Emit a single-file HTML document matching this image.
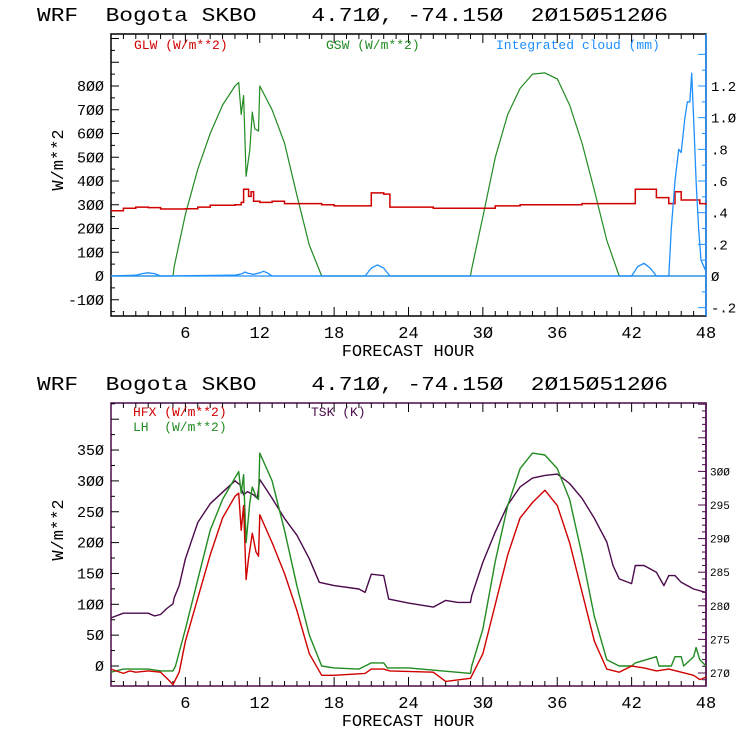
<!DOCTYPE html>
<html><head><meta charset="utf-8"><style>
body{margin:0;background:#fff;}
svg text{font-family:"Liberation Mono",monospace;white-space:pre;}
</style></head><body>
<svg id="c" width="740" height="740" xmlns="http://www.w3.org/2000/svg" xml:space="preserve">
<rect width="740" height="740" fill="#fff"/>
</svg>
<script>
// ---- data (hour, value) ----
const glwH=[0,1,2,3,4,6,7,8,10,10.5,10.7,11.1,11.3,11.5,12,13,14,17,18,20.5,21,22,22.5,26,29,31,33,38,42,42.3,44,45,45.5,46,47,47.5,48];
const glwV=[275,285,290,288,282,283,290,298,300,310,365,335,355,315,310,315,305,300,295,295,350,345,290,285,285,295,300,305,305,365,330,305,355,320,320,305,300];
const gswH=[0,5,5.1,6,7,8,9,10,10.3,10.5,10.7,10.9,11.2,11.4,11.6,11.9,12,13,14,15,16,17,29,29.1,30,31,32,33,34,35,36,37,38,39,40,41,48];
const gswV=[0,0,40,260,450,600,720,800,815,680,760,420,530,690,620,610,800,700,560,340,130,0,0,30,250,500,680,790,850,855,830,720,560,360,150,0,0];
const cldH=[0,2,2.5,3,3.5,4,10,10.6,10.8,11,11.5,12,12.3,12.6,13,20.5,21,21.5,22,22.5,42,42.5,43,43.5,44,45,45.2,45.5,45.8,46,46.3,46.5,46.7,46.85,47,47.2,47.4,47.6,48];
const cldV=[0,0.005,0.015,0.02,0.015,0,0.005,0.015,0.025,0.018,0.01,0.02,0.03,0.02,0,0,0.05,0.07,0.05,0,0,0.06,0.08,0.05,0,0,0.3,0.6,0.8,0.78,1.0,1.1,1.1,1.28,1.0,0.6,0.3,0.1,0.03];
const hfxH=[0,1,1.5,2,3,4,4.5,5,5.5,6,7,8,9,10,10.3,10.5,10.7,10.9,11.1,11.4,11.7,11.9,12,13,14,15,16,17,18,20.5,21,22,22.5,26,27,29,30,31,32,33,34,35,36,37,38,39,40,41,42,43,44,45,46,47,47.5,48];
const hfxV=[-5,-12,-8,-10,-8,-10,-20,-30,-10,40,110,180,240,275,280,220,260,140,175,215,185,178,245,200,150,90,20,-15,-15,-12,-5,-5,-8,-10,-25,-20,20,100,180,240,265,285,260,200,120,40,-5,-10,0,-3,-8,-5,-10,-15,-22,-18];
const lhH=[0,1,3,4,5,5.2,6,7,8,9,10,10.3,10.5,10.7,10.9,11.2,11.4,11.7,11.9,12,13,14,15,16,17,18,20,21,22,22.3,24,29,29.1,30,31,32,33,34,35,36,37,38,39,40,41,42,42.3,44,44.2,45.2,45.5,46,46.2,47,47.2,47.5,48];
const lhV=[-10,-5,-5,-8,-8,0,60,140,220,270,305,315,280,310,200,265,290,275,270,345,300,220,130,50,0,-3,-5,5,5,-3,-3,-12,0,60,170,260,320,345,342,320,270,180,80,10,0,0,5,15,0,0,15,15,0,15,30,10,0];
const tskH=[0,1,3,3.5,4,4.5,5,5.1,5.5,6,7,8,9,10,10.4,10.7,11,11.5,11.8,12,13,14,15,16,16.8,18,20,20.5,21,22,22.4,24,26,27,28,29,29.1,30,31,32,33,34,35,36,37,38,39,40,40.5,41,42,42.3,43,44,44.3,44.6,45,45.5,46,46.5,47,48];
const tskV=[278.2,278.9,278.9,278.5,278.7,279.6,280.3,281.2,283,287,292.4,295.2,296.9,298.6,298,296.5,297,296.5,296,298.8,296,293,290.5,287,283.5,283,282.5,282,284.7,284.5,281,280.4,279.8,280.8,280.5,280.5,281.5,286.5,291,295,297.7,299,299.4,299.6,298.2,296,293,289.5,286,284,283.3,286,286,285,284,283,284.5,284.5,283.5,283,282.5,282];
const xTicks=[6,12,18,24,30,36,42,48];
const topLeftTicks=[-100,0,100,200,300,400,500,600,700,800];
const topRightTicks=[-0.2,0,0.2,0.4,0.6,0.8,1.0,1.2];
const topRightLbl=['-.2','0','.2','.4','.6','.8','1.0','1.2'];
const botLeftTicks=[0,50,100,150,200,250,300,350];
const botRightTicks=[270,275,280,285,290,295,300];

const svg=document.getElementById('c');
const NS='http://www.w3.org/2000/svg';
function el(tag,attrs,parent){const e=document.createElementNS(NS,tag);for(const k in attrs)e.setAttribute(k,attrs[k]);(parent||svg).appendChild(e);return e;}
function txt(x,y,s,size,fill,anchor,parent){const t=el('text',{x:x,y:y,'font-size':size,fill:fill,'text-anchor':anchor||'start'},parent);t.textContent=s;return t;}

const X0=111,X1=706;
const xs=h=>X0+(X1-X0)*h/48;

function panel(){const g=el('g',{});return g;}
function poly(g,H,V,ys,color,name,w){
  const p=el('polyline',{points:H.map((h,i)=>xs(h).toFixed(1)+','+ys(V[i]).toFixed(1)).join(' '),fill:'none',stroke:color,'stroke-width':w||1.2,'stroke-linejoin':'round'},g);
  
  
}
function stepPoly(g,H,V,ys,color,name){
  const pts=[];for(let i=0;i<H.length;i++){if(i>0)pts.push(xs(H[i]).toFixed(1)+','+ys(V[i-1]).toFixed(1));pts.push(xs(H[i]).toFixed(1)+','+ys(V[i]).toFixed(1));}
  const p=el('polyline',{points:pts.join(' '),fill:'none',stroke:color,'stroke-width':1.5},g);
  
  
}
function frame(g,T,B,boxColor,rightColor){
  el('rect',{x:X0,y:T,width:X1-X0,height:B-T,fill:'none',stroke:boxColor,'stroke-width':1.5},g);
  el('line',{x1:X1,y1:T,x2:X1,y2:B,stroke:rightColor,'stroke-width':1.5},g);
  for(let h=1;h<48;h++){const L=h%6===0?9:5;
    el('line',{x1:xs(h),y1:B,x2:xs(h),y2:B-L,stroke:'#000'},g);
    el('line',{x1:xs(h),y1:T,x2:xs(h),y2:T+L,stroke:'#000'},g);}
  xTicks.forEach(h=>{const t=txt(xs(h),B+22,String(h).replace(/0/g,'Ø'),17,'#000','middle',g);});
  const xl=txt(408,B+40,'FORECAST HOUR',17,'#000','middle',g);
  
}
function title(y){const t=txt(37,y,'WRF  Bogota SKBO    4.71Ø, -74.15Ø  2Ø15Ø512Ø6',19,'#000','start');
  t.setAttribute('textLength','631');t.setAttribute('lengthAdjust','spacingAndGlyphs');
  }

// ---- top panel ----
title(21);
const gt=panel();
const yT=v=>276-v*0.2375, yC=v=>276-v*(190/1.2);
frame(gt,34,316,'#000','#1e8fff');
for(let v=-150;v<=1000;v+=50){const yy=yT(v);if(yy<34||yy>316)continue;el('line',{x1:X0,y1:yy,x2:X0+(v%100===0?8:4),y2:yy,stroke:'#000'},gt);}
topLeftTicks.forEach(v=>{const t=txt(104,yT(v)+5,String(v).replace(/0/g,'Ø'),15,'#000','end',gt);});
for(let v=-0.2;v<=1.45;v+=0.1){const yy=yC(v);if(yy<34||yy>316)continue;el('line',{x1:X1,y1:yy,x2:X1-(Math.round(v*10)%2===0?8:4),y2:yy,stroke:'#1e8fff'},gt);}
topRightTicks.forEach((v,i)=>{const t=txt(711,yC(v)+5,topRightLbl[i].replace(/0/g,'Ø'),14,'#000','start',gt);});
const ylt=txt(0,0,'W/m**2',17,'#000','middle',gt);ylt.setAttribute('transform','translate(63,160) rotate(-90)');
poly(gt,gswH,gswV,yT,'#228b22','gsw-line',1.2);
stepPoly(gt,glwH,glwV,yT,'#d00000','glw-line');
poly(gt,cldH,cldV,yC,'#1e8fff','cloud-line',1.3);
el('line',{x1:X0,y1:yT(0),x2:X1,y2:yT(0),stroke:'#1e8fff','stroke-width':1.2},gt);
[['GLW (W/m**2)',134,'#d00000','legend-glw'],['GSW (W/m**2)',326,'#228b22','legend-gsw'],['Integrated cloud (mm)',496,'#1e8fff','legend-cloud']].forEach(a=>{
  const t=txt(a[1],49,a[0],13,a[2],'start',gt);t.setAttribute('font-family','Liberation Serif, serif');});

// ---- bottom panel ----
title(390);
const gb=panel();
const yB=v=>666-v*0.617, yK=v=>673-(v-270)*6.72;
frame(gb,403,686,'#4b0a4b','#4b0a4b');
for(let v=-25;v<=450;v+=25){const yy=yB(v);if(yy<403||yy>686)continue;el('line',{x1:X0,y1:yy,x2:X0+(v%50===0?8:4),y2:yy,stroke:'#000'},gb);}
botLeftTicks.forEach(v=>{const t=txt(104,yB(v)+5,String(v).replace(/0/g,'Ø'),15,'#000','end',gb);});
for(let v=269;v<=310;v++){const yy=yK(v);if(yy<403||yy>686)continue;el('line',{x1:X1,y1:yy,x2:X1-(v%5===0?8:4),y2:yy,stroke:'#4b0a4b'},gb);}
botRightTicks.forEach(v=>{const t=txt(710,yK(v)+4,String(v).replace(/0/g,'Ø'),11,'#000','start',gb);});
const ylb=txt(0,0,'W/m**2',17,'#000','middle',gb);ylb.setAttribute('transform','translate(63,530) rotate(-90)');
poly(gb,tskH,tskV,yK,'#4b0a4b','tsk-line',1.4);
poly(gb,lhH,lhV,yB,'#228b22','lh-line',1.4);
poly(gb,hfxH,hfxV,yB,'#d00000','hfx-line',1.4);
[['HFX (W/m**2)',133,416,'#d00000','legend-hfx'],['LH  (W/m**2)',133,431,'#228b22','legend-lh'],['TSK (K)',311,416,'#4b0a4b','legend-tsk']].forEach(a=>{
  const t=txt(a[1],a[2],a[0],13,a[3],'start',gb);t.setAttribute('font-family','Liberation Serif, serif');});
</script>
</body></html>
